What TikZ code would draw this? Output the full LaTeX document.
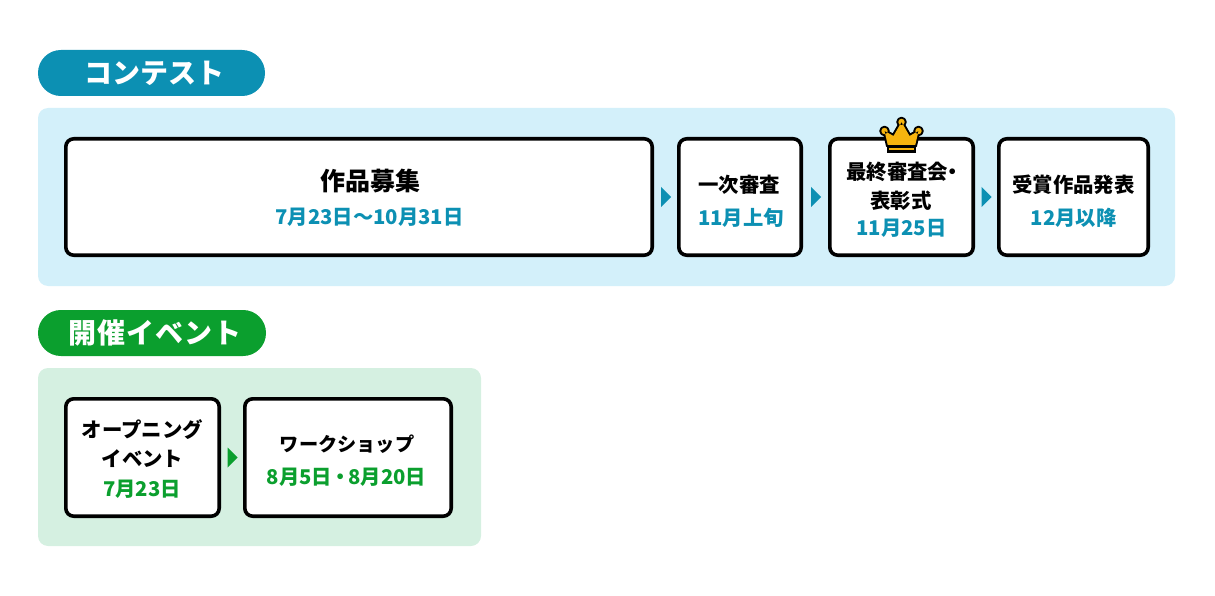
\documentclass[tikz,border=0pt]{standalone}
\usepackage{fontspec}
\setmainfont{Noto Sans CJK JP}[BoldFont={Noto Sans CJK JP Black}]
\definecolor{tealc}{HTML}{0C90B3}
\definecolor{greenc}{HTML}{0B9F2E}
\definecolor{tealbg}{HTML}{D3F0FA}
\definecolor{greenbg}{HTML}{D5F0E1}
\definecolor{crowng}{HTML}{F6B40E}
\tikzset{
  pill/.style={rounded corners=22.9pt,inner sep=0pt,outer sep=0pt},
  pilltext/.style={inner sep=0pt,text=white,font=\fontsize{28}{30}\selectfont\bfseries},
  panel/.style={rounded corners=10pt,inner sep=0pt,outer sep=0pt},
  box/.style={draw=black,fill=white,line width=3.6pt,rounded corners=8pt,inner sep=0pt,outer sep=0pt},
  title/.style={font=\fontsize{20.4}{29}\selectfont\bfseries,text=black,align=center,inner sep=0pt},
  bigtitle/.style={font=\fontsize{25}{28}\selectfont\bfseries,text=black,inner sep=0pt},
  tdate/.style={font=\fontsize{20.3}{24}\selectfont\bfseries,text=tealc,inner sep=0pt},
  gdate/.style={font=\fontsize{20.3}{24}\selectfont\bfseries,text=greenc,inner sep=0pt},
}
\newcommand{\tri}[2]{\fill[#2] ([shift={(-4.5,-10)}]#1) -- ([shift={(5.5,0)}]#1) -- ([shift={(-4.5,10)}]#1) -- cycle;}
\newcommand{\crownshape}{(884.5,131) circle (3.2pt) (901.5,122) circle (3.2pt) (918.5,131) circle (3.2pt)
  (888,146) -- (884.5,131) -- (893.5,136) -- (901.5,122) -- (909.5,136) -- (918.5,131) -- (915,146) -- cycle}
\begin{document}
\begin{tikzpicture}[x=1pt,y=-1pt]
\useasboundingbox (0,0) rectangle (1215,596);
% pills and panels
\node[pill,fill=tealc,minimum width=227pt,minimum height=46pt] (h1) at (151.5,73) {};
\node[pilltext] (h1t) at (154,73) {コンテスト};
\node[panel,fill=tealbg,minimum width=1137pt,minimum height=178pt] (p1) at (606.5,197) {};
\node[pill,fill=greenc,minimum width=228pt,minimum height=46pt] (h2) at (152,333) {};
\node[pilltext] (h2t) at (155,333) {開\kern1pt 催\kern1pt イ\kern1pt ベ\kern1pt ン\kern1pt ト};
\node[panel,fill=greenbg,minimum width=443pt,minimum height=178pt] (p2) at (259.5,457) {};
% top boxes
\node[box,minimum width=586.4pt,minimum height=116.4pt] (b1) at (359,197) {};
\node[box,minimum width=122.4pt,minimum height=116.4pt] (b2) at (740,197) {};
\node[box,minimum width=143.4pt,minimum height=116.4pt] (b3) at (901.5,197) {};
\node[box,minimum width=149.4pt,minimum height=116.4pt] (b4) at (1073.5,197) {};
% bottom boxes
\node[box,minimum width=153.4pt,minimum height=117.4pt] (b5) at (142.5,457.5) {};
\node[box,minimum width=206.4pt,minimum height=117.4pt] (b6) at (348,457.5) {};
% texts
\node[bigtitle] (t1) at (370,181) {作品募集};
\node[tdate] (d1) at (369.5,217.5) {7月23日〜10月31日};
\node[title] (t2) at (739,184.5) {一次審査};
\node[tdate] (d2) at (741,217.5) {11月上旬};
\node[title] (t3) at (901,186) {最終審査会\kern-6pt ・\kern-7pt\\表彰式};
\node[tdate] (d3) at (901.5,228.5) {11月25日};
\node[title] (t4) at (1073.5,184.5) {受賞作品発表};
\node[tdate] (d4) at (1073.5,217.5) {12月以降};
\node[title] (t5) at (142.5,444) {オープニング\\イベント};
\node[gdate] (d5) at (142,489) {7月23日};
\node[title,font=\fontsize{19.2}{29}\selectfont\bfseries] (t6) at (347,444.5) {ワークショップ};
\node[gdate] (d6) at (346.5,477.5) {8月5日\kern-2pt ・\kern-2pt 8月20日};
% arrowheads between neighbouring boxes
\path (b1.east) -- (b2.west) coordinate[midway] (a1);
\path (b2.east) -- (b3.west) coordinate[midway] (a2);
\path (b3.east) -- (b4.west) coordinate[midway] (a3);
\path (b5.east) -- (b6.west) coordinate[midway] (a4);
\tri{a1}{tealc}
\tri{a2}{tealc}
\tri{a3}{tealc}
\tri{a4}{greenc}
% crown: black outline first, gold on top
\draw[black,line width=4pt,line join=round,fill=black] \crownshape;
\fill[crowng] \crownshape;
\filldraw[draw=black,fill=crowng,line width=2.2pt] (888,146.5) rectangle (915,151.5);
\end{tikzpicture}
\end{document}
